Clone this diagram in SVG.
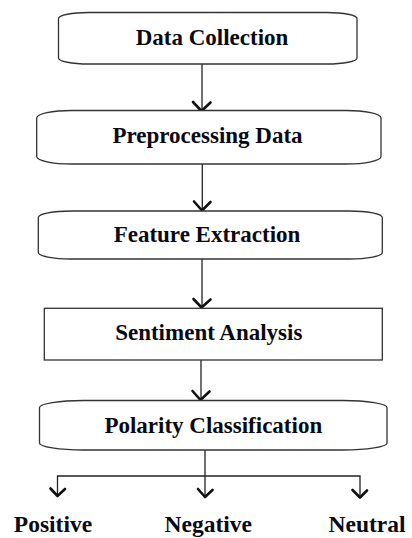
<svg xmlns="http://www.w3.org/2000/svg" width="412" height="538" viewBox="0 0 412 538">
<style>
.box{fill:#fff;stroke:#333;stroke-width:1.3}
.t{font-family:"Liberation Serif","Times New Roman",serif;font-weight:bold;font-size:23px;fill:#0a0a14;text-anchor:middle}
.lbl{font-size:23.5px}
.ln{fill:none;stroke:#222;stroke-width:1.3}
.ah{fill:none;stroke:#111;stroke-width:2.6;stroke-linecap:round;stroke-linejoin:round}
</style>
<rect width="412" height="538" fill="#fff"/>
<g id="connectors">
<line class="ln" x1="202" y1="64" x2="202" y2="111"/>
<polyline class="ah" points="193,102 201.5,111 210.5,102.5"/>
<line class="ln" x1="202.3" y1="164" x2="202.3" y2="210.5"/>
<polyline class="ah" points="194,201.5 202,210.5 210.5,202"/>
<line class="ln" x1="202" y1="259" x2="202" y2="308"/>
<polyline class="ah" points="193.5,299 201.5,307.5 210.5,299.5"/>
<line class="ln" x1="201" y1="360" x2="201" y2="400.5"/>
<polyline class="ah" points="192.5,391 200.5,400 209.5,391.5"/>
<polyline class="ln" points="205,450 205,476"/>
<polyline class="ln" points="57.5,496 57.5,476 360,476 360,497"/>
<line class="ln" x1="205" y1="476" x2="205" y2="497"/>
<polyline class="ah" points="50.5,488.5 57.5,496 65,489"/>
<polyline class="ah" points="198,489 205,497 212.5,490"/>
<polyline class="ah" points="352.5,490 360,497.5 367,490.5"/>
</g>
<g id="n1">
<rect class="box" x="58.5" y="12.5" width="298.5" height="51.5" rx="30" ry="6"/>
<text class="t" x="212" y="45">Data Collection</text>
</g>
<g id="n2">
<rect class="box" x="36.7" y="110.5" width="344.3" height="53.5" rx="35" ry="7.5"/>
<text class="t" x="207.5" y="143">Preprocessing Data</text>
</g>
<g id="n3">
<rect class="box" x="38.3" y="211" width="344" height="48" rx="33" ry="6.5"/>
<text class="t" x="207" y="241.7">Feature Extraction</text>
</g>
<g id="n4">
<rect class="box" x="44.3" y="308.3" width="338" height="51.7"/>
<text class="t" x="208.8" y="340">Sentiment Analysis</text>
</g>
<g id="n5">
<rect class="box" x="39.5" y="400.5" width="347.5" height="49.5" rx="44" ry="7"/>
<text class="t" x="213.3" y="433.3">Polarity Classification</text>
</g>
<g id="l1"><text class="t lbl" x="53" y="532">Positive</text></g>
<g id="l2"><text class="t lbl" x="208.3" y="532">Negative</text></g>
<g id="l3"><text class="t lbl" x="367" y="532">Neutral</text></g>
</svg>
